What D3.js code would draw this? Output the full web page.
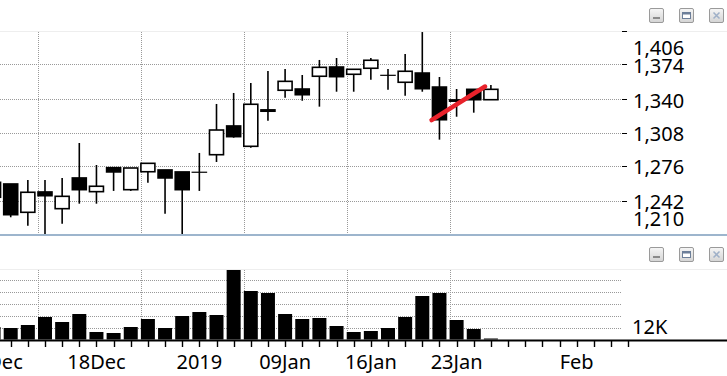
<!doctype html>
<html>
<head>
<meta charset="utf-8">
<title>Candles</title>
<script src="https://cdn.jsdelivr.net/npm/d3@7/dist/d3.min.js"></script>
<style>
    body { margin: 0; background: #fff; }
    svg { display: block; }
    text { font-family: "Noto Sans", "Open Sans", sans-serif; font-size: 20px; fill: #000; }
    .grid line { stroke: #999; stroke-dasharray: 1,1; shape-rendering: crispEdges; }
</style>
</head>
<body>
<script>
"use strict";

// one slot per session, the last ones are empty
const dates = [
    "2018-12-11", "2018-12-12", "2018-12-13", "2018-12-14", "2018-12-16", "2018-12-17",
    "2018-12-18", "2018-12-19", "2018-12-20", "2018-12-21", "2018-12-24", "2018-12-27",
    "2019-01-02", "2019-01-03", "2019-01-04", "2019-01-07", "2019-01-08", "2019-01-09",
    "2019-01-10", "2019-01-11", "2019-01-14", "2019-01-15", "2019-01-16", "2019-01-17",
    "2019-01-18", "2019-01-21", "2019-01-22", "2019-01-23", "2019-01-24", "2019-01-25",
    "2019-01-28", "2019-01-29", "2019-01-30", "2019-01-31", "2019-02-01", "2019-02-04",
    "2019-02-05", "2019-02-06"
];

const open = [1245.6, 1258.4, 1231.1, 1250.7, 1234.6, 1264.2, 1251.0, 1274.1, 1252.9, 1270.2,
    1271.9, 1270.0, 1269.7, 1286.6, 1314.3, 1294.7, 1329.8, 1348.7, 1349.9, 1362.2,
    1371.1, 1364.1, 1369.9, 1363.1, 1356.4, 1365.3, 1351.8, 1339.4, 1349.6, 1339.6];
const high = [1262.0, 1258.4, 1262.2, 1262.2, 1264.2, 1297.9, 1276.7, 1274.1, 1273.8, 1278.3,
    1271.9, 1270.0, 1288.3, 1335.5, 1346.1, 1355.7, 1367.3, 1369.2, 1363.4, 1377.9,
    1379.8, 1368.9, 1379.8, 1369.2, 1383.6, 1404.8, 1361.5, 1349.9, 1349.6, 1353.8];
const low = [1243.0, 1226.3, 1218.2, 1204.0, 1220.1, 1239.4, 1239.4, 1251.7, 1251.7, 1259.6,
    1229.8, 1204.0, 1251.7, 1279.6, 1303.0, 1293.4, 1319.4, 1341.5, 1338.6, 1332.9,
    1347.3, 1347.3, 1358.9, 1349.2, 1343.5, 1347.3, 1301.1, 1323.2, 1327.1, 1339.6];
const close = [1260.0, 1228.8, 1250.4, 1247.1, 1246.5, 1252.9, 1256.2, 1270.0, 1273.8, 1278.3,
    1264.2, 1252.9, 1269.7, 1310.4, 1304.0, 1335.2, 1328.5, 1357.3, 1344.4, 1370.8,
    1361.8, 1368.9, 1377.6, 1363.1, 1367.0, 1350.2, 1320.3, 1338.2, 1339.6, 1349.6];
const volume = [12500, 11500, 14500, 22500, 17500, 25500, 7500, 6500, 12500, 20500,
    11500, 23500, 27500, 24500, 69500, 48500, 46500, 25500, 20500, 21500,
    13500, 7500, 8500, 11500, 22500, 43500, 46500, 19500, 10500, 1000];

const priceTicks = [1406, 1374, 1340, 1308, 1276, 1242, 1210];
const priceGrid = [1374, 1340, 1308, 1276, 1242];
const volumeGrid = [0, 12000, 24000, 36000, 48000, 60000];
const volumeLabels = [12000];
const dateLabels = {
    "2018-12-11": "11Dec", "2018-12-18": "18Dec", "2019-01-02": "2019",
    "2019-01-09": "09Jan", "2019-01-16": "16Jan", "2019-01-23": "23Jan", "2019-02-01": "Feb"
};
// red trend line, [slot index, price]
const trend = [[25.54, 1320.0], [28.66, 1352.3]];

const width = 727, height = 376;
const plotRight = 622;
const price = { top: 31, bottom: 234 };
const vol = { top: 269, bottom: 340 };

const candles = open.map((o, i) => ({
    i, date: dates[i], o, h: high[i], l: low[i], c: close[i], v: volume[i]
}));

const x = d3.scaleLinear()
    .domain([0, dates.length - 1])
    .range([-6.45, 628.1]);

const y = d3.scaleLinear()
    .domain([1210, 1406])
    .range([234.2, 30.8]);

const yv = d3.scaleLinear()
    .domain([0, 71000])
    .range([339.5, 268.5]);

const svg = d3.select("body").append("svg")
    .attr("width", width)
    .attr("height", height)
    .attr("viewBox", [0, 0, width, height]);

const defs = svg.append("defs");
defs.append("clipPath").attr("id", "clipPrice")
    .append("rect").attr("x", 0).attr("y", price.top).attr("width", plotRight).attr("height", price.bottom - price.top);
defs.append("clipPath").attr("id", "clipVol")
    .append("rect").attr("x", 0).attr("y", vol.top).attr("width", plotRight).attr("height", vol.bottom - vol.top);
const grad = defs.append("linearGradient").attr("id", "btn").attr("x1", 0).attr("y1", 0).attr("x2", 0).attr("y2", 1);
grad.append("stop").attr("offset", "0%").attr("stop-color", "#f6f6f6");
grad.append("stop").attr("offset", "100%").attr("stop-color", "#d4d4d4");

// panel borders
svg.append("line")
    .attr("x1", 0).attr("x2", width).attr("y1", price.top + 0.5).attr("y2", price.top + 0.5)
    .attr("stroke", "#eeeeee");
svg.append("line")
    .attr("x1", 0).attr("x2", width).attr("y1", vol.top + 0.5).attr("y2", vol.top + 0.5)
    .attr("stroke", "#eeeeee");

// vertical grid every 6th slot
const vGrid = candles.filter(d => d.i % 6 === 3).map(d => Math.round(x(d.i - 0.4)) + 0.5);

const gp = svg.append("g").attr("class", "grid");
gp.selectAll("line.h").data(priceGrid).join("line")
    .attr("class", "h")
    .attr("x1", 0).attr("x2", plotRight)
    .attr("y1", d => Math.round(y(d)) + 0.5).attr("y2", d => Math.round(y(d)) + 0.5);
gp.selectAll("line.v").data(vGrid).join("line")
    .attr("class", "v")
    .attr("x1", d => d).attr("x2", d => d)
    .attr("y1", price.top + 1).attr("y2", price.bottom);

const gv = svg.append("g").attr("class", "grid");
gv.selectAll("line.h").data(volumeGrid).join("line")
    .attr("class", "h")
    .attr("x1", 0).attr("x2", plotRight)
    .attr("y1", d => Math.round(yv(d)) + 0.5).attr("y2", d => Math.round(yv(d)) + 0.5);
gv.selectAll("line.v").data(vGrid).join("line")
    .attr("class", "v")
    .attr("x1", d => d).attr("x2", d => d)
    .attr("y1", vol.top + 1).attr("y2", vol.bottom);

// candles
const bodyW = 14;
const cg = svg.append("g").attr("clip-path", "url(#clipPrice)");
cg.selectAll("line.wick").data(candles).join("line")
    .attr("class", "wick")
    .attr("x1", d => x(d.i)).attr("x2", d => x(d.i))
    .attr("y1", d => y(d.h)).attr("y2", d => y(d.l))
    .attr("stroke", "#000").attr("stroke-width", 1.6);
cg.selectAll("rect.body").data(candles.filter(d => d.o !== d.c)).join("rect")
    .attr("class", "body")
    .attr("x", d => x(d.i) - bodyW / 2)
    .attr("width", bodyW)
    .attr("y", d => y(Math.max(d.o, d.c)))
    .attr("height", d => Math.max(0.5, Math.abs(y(d.o) - y(d.c))))
    .attr("fill", d => d.c > d.o ? "#fff" : "#000")
    .attr("stroke", "#000").attr("stroke-width", 1.6);
cg.selectAll("line.doji").data(candles.filter(d => d.o === d.c)).join("line")
    .attr("class", "doji")
    .attr("x1", d => x(d.i) - bodyW / 2 - 0.8).attr("x2", d => x(d.i) + bodyW / 2 + 0.8)
    .attr("y1", d => y(d.o)).attr("y2", d => y(d.o))
    .attr("stroke", "#000").attr("stroke-width", 1.2);

// trend line
svg.append("path")
    .datum(trend)
    .attr("fill", "none")
    .attr("stroke", "#e8222b")
    .attr("stroke-width", 4.5)
    .attr("stroke-linecap", "round")
    .attr("d", d3.line().x(d => x(d[0])).y(d => y(d[1])));

// price axis on the right
const ya = svg.append("g");
ya.selectAll("line").data(priceTicks.slice(0, -1)).join("line")
    .attr("x1", plotRight).attr("x2", plotRight + 5)
    .attr("y1", d => Math.round(y(d)) + 0.5).attr("y2", d => Math.round(y(d)) + 0.5)
    .attr("stroke", "#000");
ya.selectAll("text").data(priceTicks).join("text")
    .attr("x", 633)
    .attr("y", d => Math.min(219, Math.max(48, y(d) + 1.5)))
    .attr("dy", "0.35em")
    .text(d => d3.format(",")(d));

// separator between panels
svg.append("line")
    .attr("x1", 0).attr("x2", width).attr("y1", 235).attr("y2", 235)
    .attr("stroke", "#9db5cd").attr("stroke-width", 2);

// volume bars
svg.append("g").attr("clip-path", "url(#clipVol)")
    .selectAll("rect").data(candles).join("rect")
    .attr("x", d => x(d.i) - 7)
    .attr("width", 14)
    .attr("y", d => yv(d.v))
    .attr("height", d => Math.max(1, yv(0) - yv(d.v)))
    .attr("fill", "#000");

svg.append("g").selectAll("text").data(volumeLabels).join("text")
    .attr("x", 632)
    .attr("y", d => yv(d) - 1)
    .attr("dy", "0.35em")
    .text(d => d3.format(".2~s")(d).replace("k", "K"));

// date axis
const xa = svg.append("g");
xa.append("line")
    .attr("x1", 0).attr("x2", width).attr("y1", 340.5).attr("y2", 340.5)
    .attr("stroke", "#000").attr("stroke-width", 2);
xa.selectAll("line.tick").data(dates.map((d, i) => i)).join("line")
    .attr("class", "tick")
    .attr("x1", d => Math.round(x(d)) + 0.5).attr("x2", d => Math.round(x(d)) + 0.5)
    .attr("y1", 341).attr("y2", 347)
    .attr("stroke", "#000").attr("stroke-width", 1.4);
xa.selectAll("text").data(dates.map((d, i) => i).filter(i => dateLabels[dates[i]])).join("text")
    .attr("x", d => x(d))
    .attr("y", 362)
    .attr("dy", "0.35em")
    .attr("text-anchor", "middle")
    .text(d => dateLabels[dates[d]]);

// window buttons of each panel
function buttons(top) {
    const g = svg.append("g");
    [649, 679, 709].forEach((bx, k) => {
        g.append("rect")
            .attr("x", bx + 0.5).attr("y", top + 0.5).attr("width", 14).attr("height", 14)
            .attr("rx", 1.5)
            .attr("fill", "url(#btn)").attr("stroke", "#9a9a9a");
        if (k === 0) {
            g.append("rect").attr("x", bx + 4).attr("y", top + 9).attr("width", 7).attr("height", 2).attr("fill", "#8a8a8a");
        } else if (k === 1) {
            g.append("rect").attr("x", bx + 3.5).attr("y", top + 4.5).attr("width", 8).attr("height", 6)
                .attr("fill", "#fff").attr("stroke", "#6d7f99");
            g.append("rect").attr("x", bx + 3.5).attr("y", top + 4.5).attr("width", 8).attr("height", 2).attr("fill", "#6d7f99");
        } else {
            g.append("path")
                .attr("d", `M${bx + 4.5},${top + 4.5}L${bx + 10.5},${top + 10.5}M${bx + 10.5},${top + 4.5}L${bx + 4.5},${top + 10.5}`)
                .attr("stroke", "#9fb0c8").attr("stroke-width", 1.5);
        }
    });
}
buttons(8);
buttons(247);
</script>
</body>
</html>
